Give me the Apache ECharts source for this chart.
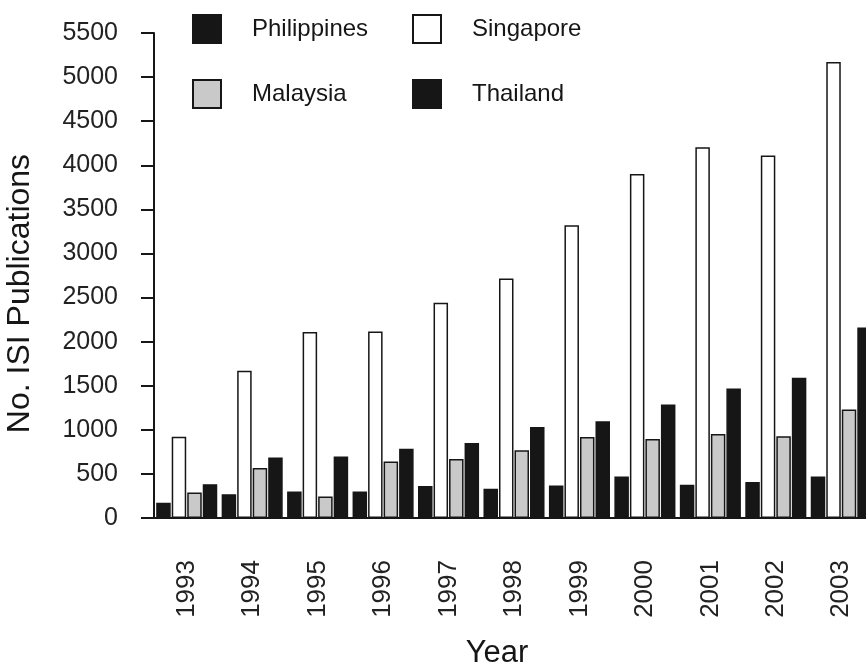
<!doctype html>
<html>
<head>
    <meta charset="UTF-8">
    <title>No. ISI Publications</title>
    <script src="https://cdn.jsdelivr.net/npm/echarts@6/dist/echarts.min.js"></script>
    <style>
        html, body { margin: 0; padding: 0; background: #fff; }
        #main { width: 866px; height: 664px; }
    </style>
</head>
<body>
<div id="main"></div>
<script>
    // 数据
    var years = ['1993', '1994', '1995', '1996', '1997', '1998', '1999', '2000', '2001', '2002', '2003'];
    var philippines = [174, 270, 300, 300, 364, 332, 368, 470, 376, 407, 470];
    var singapore = [920, 1670, 2110, 2115, 2440, 2715, 3320, 3900, 4205, 4110, 5170];
    var malaysia = [288, 566, 243, 641, 668, 767, 919, 896, 953, 926, 1230];
    var thailand = [384, 687, 698, 786, 851, 1033, 1097, 1287, 1469, 1591, 2161];
    var yTicks = [0, 500, 1000, 1500, 2000, 2500, 3000, 3500, 4000, 4500, 5000, 5500];

    var font = 'Liberation Sans, Arial, Helvetica, sans-serif';
    var ink = '#161616';

    var myChart = echarts.init(document.getElementById('main'));

    function bar(name, data, fill) {
        return {
            name: name,
            type: 'bar',
            data: data,
            barWidth: 14.5,
            barGap: '7%',
            itemStyle: {
                color: fill,
                borderColor: ink,
                borderWidth: 1.5
            }
        };
    }

    var legendBase = {
        orient: 'vertical',
        top: 9,
        itemWidth: 28,
        itemHeight: 28,
        itemGap: 35,
        icon: 'rect',
        selectedMode: false,
        textStyle: {
            fontFamily: font,
            fontSize: 24,
            color: ink,
            padding: [0, 0, 0, 26]
        }
    };

    var option = {
        backgroundColor: '#fff',
        animation: false,
        legend: [
            Object.assign({}, legendBase, { left: 187, data: ['Philippines', 'Malaysia'] }),
            Object.assign({}, legendBase, { left: 407, data: ['Singapore', 'Thailand'] })
        ],
        grid: {
            left: 154,
            right: -8,
            top: 33,
            bottom: 146,
            containLabel: false,
            outerBoundsMode: 'none'
        },
        xAxis: {
            type: 'category',
            data: years,
            name: 'Year',
            nameLocation: 'middle',
            nameGap: 120,
            nameTextStyle: {
                fontFamily: font,
                fontSize: 31,
                color: ink,
                padding: [0, 34, 0, 0]
            },
            axisLine: { lineStyle: { color: ink, width: 2 } },
            axisTick: { alignWithLabel: true, length: 12, lineStyle: { color: ink, width: 2 } },
            axisLabel: {
                rotate: 90,
                margin: 42,
                padding: [10, 0, 0, 0],
                fontFamily: font,
                fontSize: 26,
                color: '#222'
            },
            splitLine: { show: false }
        },
        yAxis: {
            type: 'value',
            min: yTicks[0],
            max: yTicks[yTicks.length - 1],
            interval: 500,
            name: 'No. ISI Publications',
            nameLocation: 'middle',
            nameGap: 118,
            nameTextStyle: {
                fontFamily: font,
                fontSize: 32,
                color: ink,
                padding: [0, 36, 0, 0]
            },
            axisLine: { show: true, lineStyle: { color: ink, width: 2 } },
            axisTick: { show: true, length: 13, lineStyle: { color: ink, width: 2 } },
            axisLabel: {
                margin: 36,
                fontFamily: font,
                fontSize: 25,
                color: '#222',
                formatter: function (value) {
                    return String(value);
                }
            },
            splitLine: { show: false }
        },
        series: [
            bar('Philippines', philippines, ink),
            bar('Singapore', singapore, '#ffffff'),
            bar('Malaysia', malaysia, '#c9c9c9'),
            bar('Thailand', thailand, ink)
        ]
    };

    myChart.setOption(option);
</script>
</body>
</html>
